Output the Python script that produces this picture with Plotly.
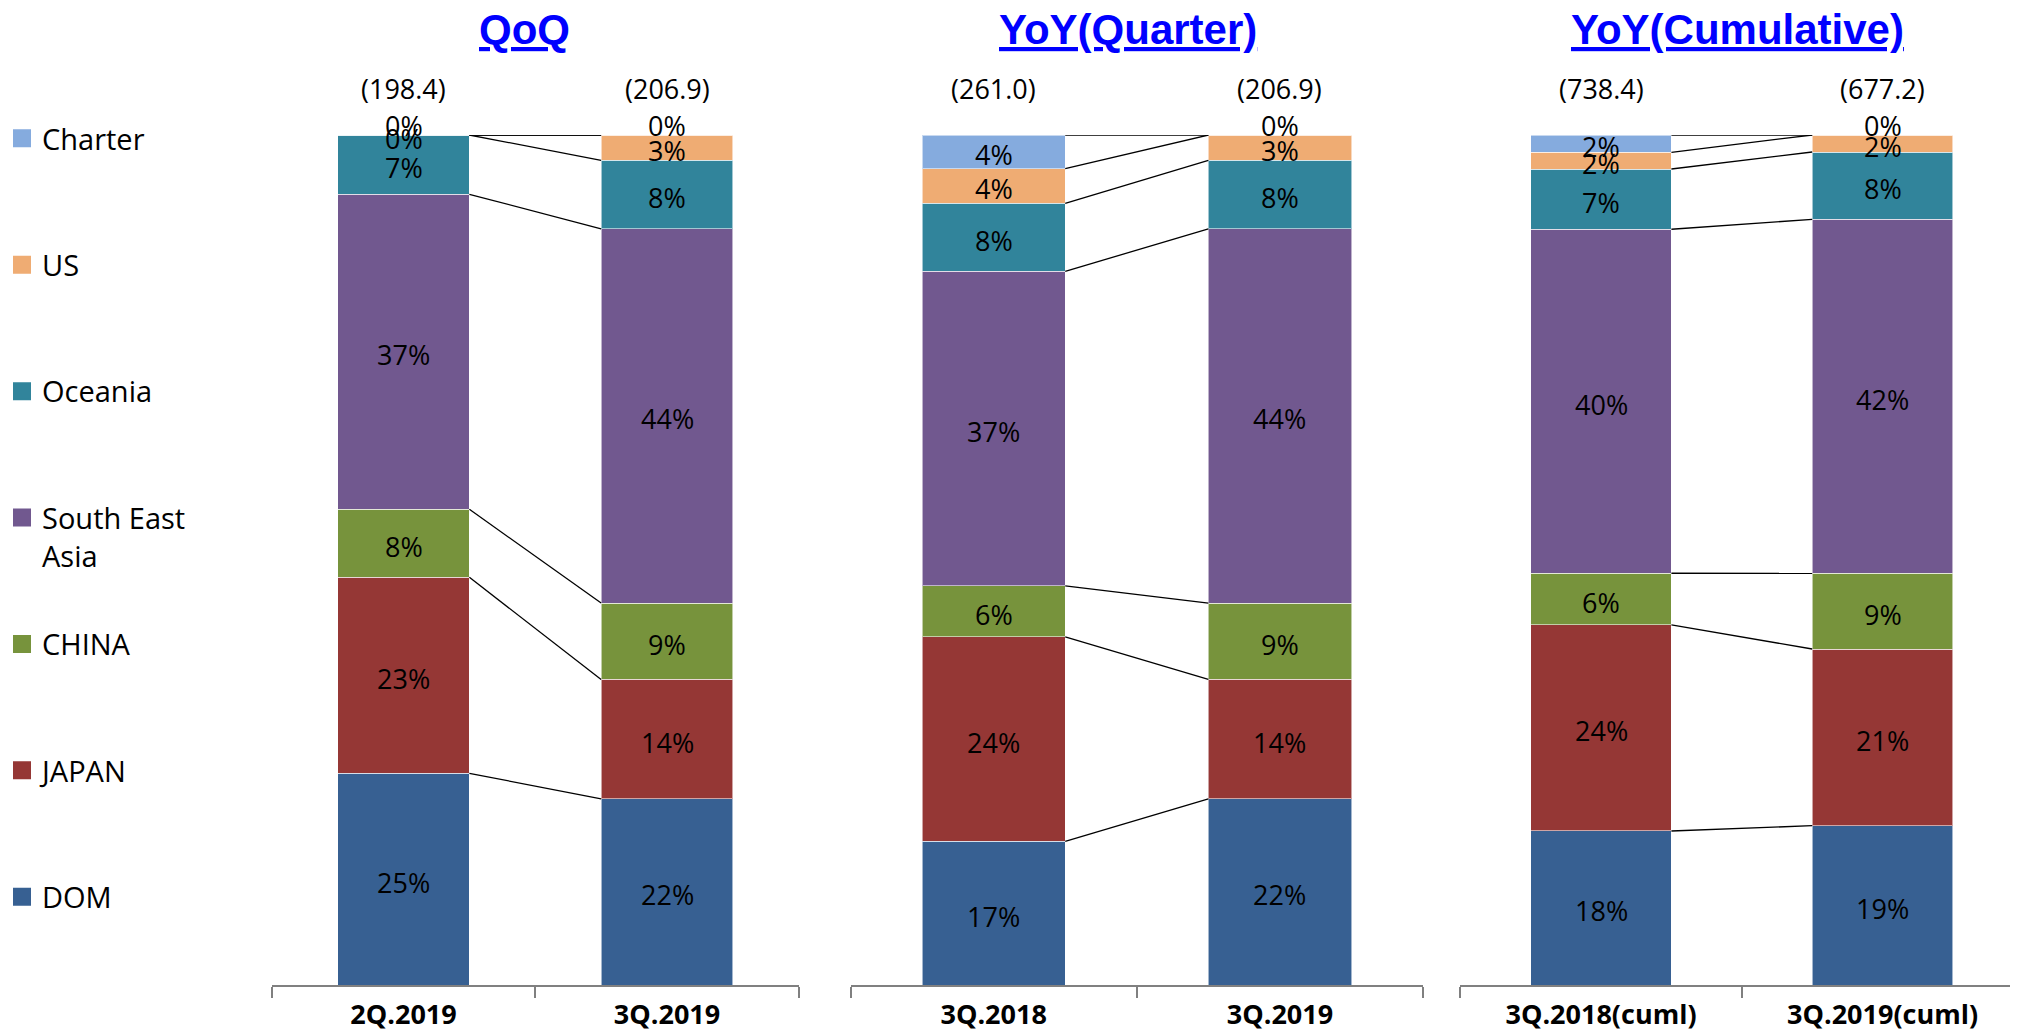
import plotly.graph_objects as go

# bar categories, two per panel
periods = ["2Q.2019", "3Q.2019", "3Q.2018", "3Q.2019", "3Q.2018(cuml)", "3Q.2019(cuml)"]
totals = [198.4, 206.9, 261.0, 206.9, 738.4, 677.2]
panel_titles = ["QoQ", "YoY(Quarter)", "YoY(Cumulative)"]

# share of each region in %, stacked bottom -> top
dom = [24.9, 21.9, 16.9, 21.9, 18.12, 18.74]
japan = [23.06, 14.05, 24.05, 14.05, 24.24, 20.79]
china = [8.0, 8.98, 6.0, 8.98, 6.08, 8.9]
sea = [37.06, 44.04, 37.0, 44.04, 40.47, 41.65]
oceania = [6.98, 8.05, 8.02, 8.05, 7.09, 7.92]
us = [0.0, 2.98, 4.07, 2.98, 1.96, 2.0]
charter = [0.0, 0.0, 3.96, 0.0, 2.04, 0.0]

series = [
    ("DOM", dom, "#376092"),
    ("JAPAN", japan, "#953735"),
    ("CHINA", china, "#77933C"),
    ("South East Asia", sea, "#71588F"),
    ("Oceania", oceania, "#31849B"),
    ("US", us, "#EFAC73"),
    ("Charter", charter, "#85ABDE"),
]
legend_labels = {"South East Asia": "South East<br>Asia"}

# page is offset by the 8px body margin, so work in page pixels and convert
OFF = 8
W, H = 2018 - OFF, 1033 - OFF


def px(x):
    return (x - OFF) / W


def py(y):
    return 1 - (y - OFF) / H


BARGAP = 0.5
HALF = (1 - BARGAP) / 2
LABEL_FONT = dict(family="Open Sans", size=27, color="black")

x_domains = [(px(271.75), px(798.75)), (px(850.5), px(1423.1)), (px(1460.25), 1.0)]
x_ranges = [[-0.5, 1.5], [-0.5, 1.5], [-0.5, 1.481]]
y_domain = [py(985), py(135)]
title_x = [px(524), px(1127.5), px(1737)]

fig = go.Figure()
annotations = []

for p in range(3):
    xa = "x" if p == 0 else f"x{p + 1}"
    ya = "y" if p == 0 else f"y{p + 1}"
    idx = [2 * p, 2 * p + 1]

    for name, vals, color in series:
        fig.add_trace(
            go.Bar(
                x=[0, 1],
                y=[vals[i] for i in idx],
                name=name,
                legendgroup=name,
                showlegend=False,
                marker=dict(color=color, line=dict(color="rgba(255,255,255,0.55)", width=1)),
                xaxis=xa,
                yaxis=ya,
                hovertemplate="%{y:.1f}%<extra>" + name + "</extra>",
            )
        )

    # running tops of each segment, per bar
    cums = []
    for i in idx:
        run, tops = 0.0, []
        for name, vals, color in series:
            bottom = run
            run += vals[i]
            tops.append(run)
            dy = 10 if (name == "Charter" and vals[i] == 0) else -3
            annotations.append(
                dict(
                    x=i - idx[0], y=bottom + vals[i] / 2, xref=xa, yref=ya,
                    text=f"{vals[i]:.0f}%", showarrow=False, font=LABEL_FONT, yshift=dy,
                )
            )
        cums.append(tops)
        annotations.append(
            dict(
                x=i - idx[0], y=run, xref=xa, yref=ya, text=f"({totals[i]:.1f})",
                showarrow=False, font=dict(family="Open Sans", size=27, color="black"),
                yshift=47,
            )
        )

    # connector lines between segment boundaries
    lx, ly = [], []
    for a, b in zip(cums[0], cums[1]):
        lx += [HALF, 1 - HALF, None]
        ly += [a, b, None]
    fig.add_trace(
        go.Scatter(
            x=lx, y=ly, mode="lines", line=dict(color="black", width=1.3),
            showlegend=False, hoverinfo="skip", xaxis=xa, yaxis=ya,
        )
    )

    annotations.append(
        dict(
            x=title_x[p], y=py(29), xref="paper", yref="paper",
            xanchor="center", yanchor="middle",
            text=panel_titles[p], showarrow=False,
            font=dict(family="Liberation Sans", size=42, color="#0000FF",
                      weight="bold", lineposition="under"),
        )
    )

    axis_key = "xaxis" if p == 0 else f"xaxis{p + 1}"
    yaxis_key = "yaxis" if p == 0 else f"yaxis{p + 1}"
    fig.update_layout(
        {
            axis_key: dict(
                domain=list(x_domains[p]), range=x_ranges[p], anchor=ya,
                tickmode="array", tickvals=[0, 1], ticktext=[periods[i] for i in idx],
                ticks="", showgrid=False, zeroline=False, ticklabelstandoff=5,
                showline=True, linecolor="#808080", linewidth=2,
                tickfont=dict(family="Open Sans", size=27, color="black", weight="bold"),
                minor=dict(tickmode="array", tickvals=[-0.5, 0.5, 1.5], ticks="outside",
                           ticklen=11, tickwidth=2, tickcolor="#808080", showgrid=False),
                fixedrange=True,
            ),
            yaxis_key: dict(
                domain=y_domain, range=[0, 100], anchor=xa, visible=False, fixedrange=True,
            ),
        }
    )

# legend entries (square swatches), linked to the bars by legendgroup;
# every entry gets two lines so the slots are even, Charter on top
for rank, (name, vals, color) in enumerate(reversed(series)):
    label = legend_labels.get(name, name + "<br>\u00a0")
    fig.add_trace(
        go.Scatter(
            x=[None], y=[None], mode="markers", name=label, legendgroup=name,
            legendrank=rank + 1,
            marker=dict(symbol="square", size=16, color=color, line=dict(color=color, width=2)),
        )
    )

fig.update_layout(
    width=W,
    height=H,
    margin=dict(l=0, r=0, t=0, b=0, autoexpand=False),
    barmode="stack",
    bargap=BARGAP,
    paper_bgcolor="white",
    plot_bgcolor="white",
    showlegend=True,
    legend=dict(
        x=-6 / W, y=1 - 105 / H, xanchor="left", yanchor="top",
        traceorder="grouped", tracegroupgap=48, valign="top",
        font=dict(family="Open Sans", size=29, color="black"),
        bgcolor="rgba(0,0,0,0)",
    ),
    annotations=annotations,
)

fig.write_html("out.html")
